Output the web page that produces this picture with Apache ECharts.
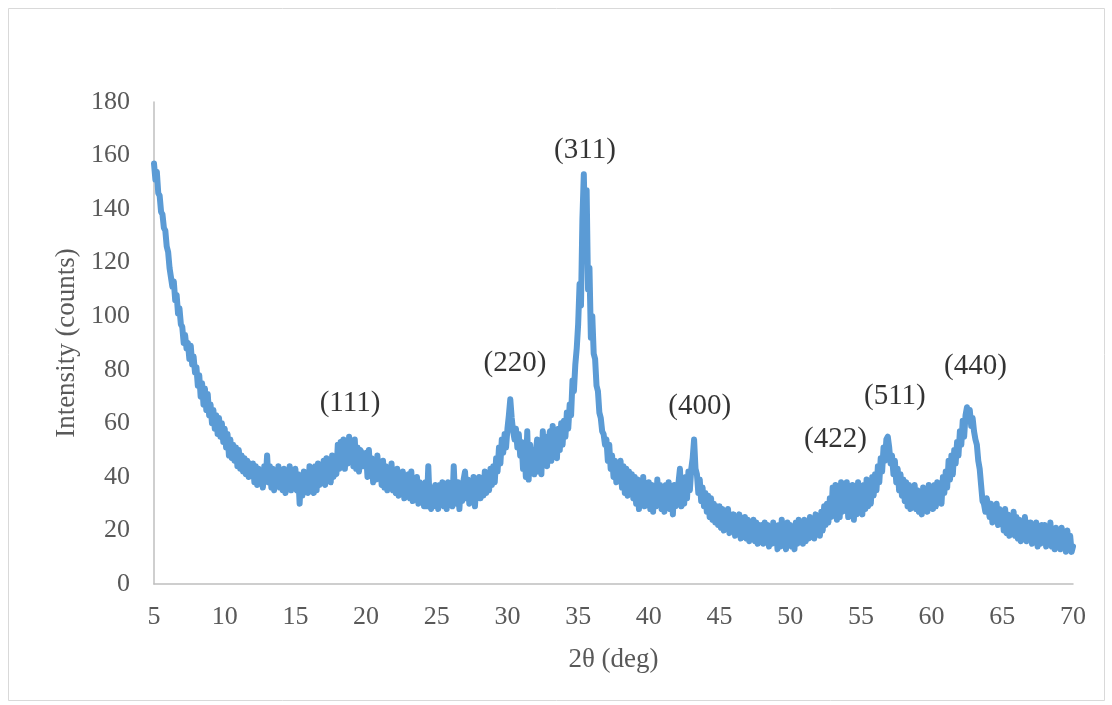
<!DOCTYPE html>
<html>
<head>
<meta charset="utf-8">
<script src="https://cdn.jsdelivr.net/npm/echarts@6/dist/echarts.min.js"></script>
<style>
html,body{margin:0;padding:0;background:#fff;}
#chart{width:1112px;height:705px;}
</style>
</head>
<body>
<div id="chart"></div>
<script>
// 2θ sampling grid
const startAngle = 5.0;
const angleStep = 0.1;
// Intensity (counts), one value per 0.1 deg from 5.0 to 70.0
const intensity = [
  157,151,154,146,145,139,138,133,132,126, // 5
  124,118,118,111,113,106,108,101,103,97,  // 6
  96,90,93,88,90,84,89,82,85,79,           // 7
  81,74,78,70,75,67,73,65,71,63,           // 8
  67,60,65,58,63,56,62,55,60,53,           // 9
  58,51,56,48,54,47,52,46,51,44,           // 10
  50,43,48,42,47,41,46,40,45,41,           // 11
  45,38,44,37,43,38,41,36,44,39,           // 12
  48,38,44,36,43,35,42,37,44,36,           // 13
  42,35,43,34,41,36,44,35,42,37,           // 14
  43,35,41,30,40,33,42,35,41,34,           // 15
  44,36,42,34,44,35,45,37,43,38,           // 16
  46,37,47,39,45,38,48,40,47,41,           // 17
  52,43,53,44,54,43,52,45,55,46,           // 18
  52,44,54,43,51,42,50,49,44,48,           // 19
  49,40,50,41,47,38,46,39,48,40,           // 20
  45,37,46,36,44,35,43,37,45,35,           // 21
  42,34,43,33,41,35,42,32,40,34,           // 22
  41,32,42,31,39,33,40,30,38,32,           // 23
  36,29,38,29,44,30,28,36,29,37,           // 24
  36,28,37,30,38,29,36,28,38,31,           // 25
  37,29,44,32,30,38,28,37,31,39,           // 26
  42,32,39,30,38,31,40,29,37,32,           // 27
  40,32,39,33,42,34,40,35,43,37,           // 28
  44,38,47,42,51,45,54,49,56,51,           // 29
  58,63,69,62,57,54,58,51,56,48,           // 30
  53,43,51,40,57,39,52,42,50,41,           // 31
  49,54,42,52,41,57,46,55,44,53,           // 32
  57,46,59,49,56,47,58,50,60,52,           // 33
  61,55,64,58,67,63,76,72,82,88,           // 34
  97,112,104,136,153,128,147,110,118,92,   // 35
  100,86,84,74,72,64,62,57,56,52,          // 36
  54,46,52,43,48,40,46,38,45,39,           // 37
  46,36,44,34,43,33,42,35,41,32,           // 38
  40,30,39,28,38,31,40,29,37,31,           // 39
  38,28,37,27,36,29,39,30,37,28,           // 40
  36,27,37,29,38,28,35,26,37,29,           // 41
  35,38,43,29,38,30,40,32,42,35,           // 42
  43,47,54,43,41,34,39,31,36,29,           // 43
  34,27,33,25,32,24,30,23,29,22,           // 44
  29,21,28,20,27,21,28,19,26,20,           // 45
  26,18,25,19,26,17,24,18,25,17,           // 46
  24,16,23,17,24,16,23,15,22,16,           // 47
  22,15,23,16,22,14,21,15,23,16,           // 48
  21,13,22,14,24,15,21,13,23,15,           // 49
  22,14,21,13,23,15,24,16,22,15,           // 50
  24,16,23,17,25,18,24,17,26,19,           // 51
  25,18,27,20,29,22,30,23,32,25,           // 52
  36,26,37,24,34,25,38,27,37,28,           // 53
  38,25,36,27,37,24,35,26,38,28,           // 54
  36,26,37,28,39,29,37,30,40,33,           // 55
  41,35,44,38,47,42,51,46,54,55,           // 56
  51,45,48,41,46,38,43,35,41,33,           // 57
  39,31,38,29,37,28,36,30,37,28,           // 58
  35,27,34,26,36,28,35,27,37,29,           // 59
  36,28,37,29,38,31,37,30,40,34,           // 60
  42,36,46,39,48,41,50,45,53,48,           // 61
  57,52,61,55,63,66,62,65,59,62,           // 62
  57,54,52,46,43,37,31,30,27,32,           // 63
  29,25,30,23,28,24,30,22,28,24,           // 64
  27,20,28,19,26,18,25,19,27,18,           // 65
  25,17,24,16,23,18,25,16,23,17,           // 66
  23,15,22,16,23,14,21,15,22,16,           // 67
  22,14,21,15,23,14,20,13,21,15,           // 68
  20,13,21,14,19,12,20,13,18,12,           // 69
  14                                       // 70
];
// Peak annotations (Miller indices) and their text anchor positions in data units
const peakLabels = ['(111)','(220)','(311)','(400)','(422)','(511)','(440)'];
const peakLabelX = [18.86, 30.53, 35.48, 43.6, 53.2, 57.4, 63.1];
const peakLabelY = [67.6, 82.5, 162, 66.5, 54, 70.2, 81.4];
// Axis ticks
const xMin = 5, xMax = 70, xInterval = 5;
const yMin = 0, yMax = 180, yInterval = 20;

const lineData = intensity.map((v, i) => [+(startAngle + i * angleStep).toFixed(2), v]);
const labelData = peakLabels.map((t, i) => ({ name: t, value: [peakLabelX[i], peakLabelY[i]] }));

const FONT = '"Liberation Serif", "Times New Roman", serif';
const chart = echarts.init(document.getElementById('chart'), null, { renderer: 'canvas' });
chart.setOption({
  animation: false,
  backgroundColor: '#ffffff',
  grid: { left: 154, right: 39, top: 102, bottom: 121, containLabel: false },
  graphic: [{
    type: 'rect', silent: true,
    shape: { x: 8.5, y: 8.5, width: 1096, height: 692 },
    style: { fill: 'none', stroke: '#d9d9d9', lineWidth: 1 }
  }],
  xAxis: {
    type: 'value', min: xMin, max: xMax, interval: xInterval,
    name: '2θ (deg)', nameLocation: 'middle', nameGap: 62,
    nameTextStyle: { fontFamily: FONT, fontSize: 27, color: '#595959' },
    axisLine: { show: true, onZero: false, lineStyle: { color: '#bfbfbf', width: 1.5 } },
    axisTick: { show: false },
    splitLine: { show: false },
    axisLabel: { fontFamily: FONT, fontSize: 26, color: '#595959', margin: 20 }
  },
  yAxis: {
    type: 'value', min: yMin, max: yMax, interval: yInterval,
    name: 'Intensity (counts)', nameLocation: 'middle', nameGap: 74, nameRotate: 90,
    nameTextStyle: { fontFamily: FONT, fontSize: 27, color: '#595959' },
    axisLine: { show: true, lineStyle: { color: '#bfbfbf', width: 1.5 } },
    axisTick: { show: false },
    splitLine: { show: false },
    axisLabel: { fontFamily: FONT, fontSize: 26, color: '#595959', margin: 24 }
  },
  series: [
    {
      type: 'line', data: lineData, showSymbol: false, symbol: 'none',
      lineStyle: { color: '#5b9bd5', width: 6, join: 'round', cap: 'round' },
      z: 2
    },
    {
      type: 'scatter', data: labelData, symbolSize: 1,
      itemStyle: { color: 'rgba(0,0,0,0)' },
      label: {
        show: true, position: 'inside', formatter: '{b}',
        fontFamily: FONT, fontSize: 29, color: '#000000'
      },
      z: 3
    }
  ]
});
</script>
</body>
</html>
